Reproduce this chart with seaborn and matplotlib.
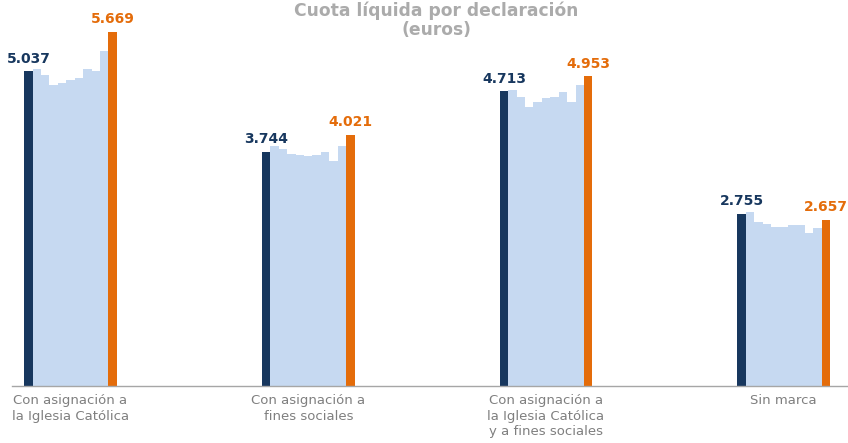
import matplotlib
matplotlib.use("Agg")
import matplotlib.pyplot as plt
import seaborn as sns
import pandas as pd

# --- Données ---
CATEGORIES = [
    "Con asignación a\nla Iglesia Católica",
    "Con asignación a\nfines sociales",
    "Con asignación a\nla Iglesia Católica\ny a fines sociales",
    "Sin marca",
]
YEARS = [str(y) for y in range(2007, 2018)]

iglesia   = [5037, 5073, 4973, 4823, 4855, 4898, 4935, 5073, 5037, 5357, 5669]
fines     = [3744, 3846, 3788, 3718, 3697, 3676, 3697, 3750, 3601, 3846, 4021]
ambos     = [4713, 4738, 4626, 4471, 4551, 4604, 4626, 4706, 4551, 4823, 4953]
sin_marca = [2755, 2790, 2620, 2588, 2545, 2545, 2582, 2582, 2454, 2524, 2657]

NAVY   = "#17375E"
LIGHT  = "#C6D9F1"
ORANGE = "#E46C0A"

rows = []
for cat, serie in zip(CATEGORIES, [iglesia, fines, ambos, sin_marca]):
    for year, v in zip(YEARS, serie):
        rows.append({"categoria": cat, "anio": year, "cuota": v})
df = pd.DataFrame(rows)

sns.set_style("white")
plt.rcParams["font.family"] = ["DejaVu Sans"]

fig = plt.figure(figsize=(8.48, 4.43), dpi=100)
ax = fig.add_axes([12 / 848, 57 / 443, 836 / 848, 375 / 443])

palette = [NAVY] + [LIGHT] * (len(YEARS) - 2) + [ORANGE]
sns.barplot(data=df, x="categoria", y="cuota", hue="anio", palette=palette,
            width=0.39, gap=0, saturation=1, legend=False, linewidth=0, ax=ax)

fmt = lambda v: f"{v:,.0f}".replace(",", ".")
series = [iglesia, fines, ambos, sin_marca]
ax.bar_label(ax.containers[0], labels=[fmt(s[0]) for s in series],
             padding=4, color=NAVY, fontsize=10, fontweight="bold")
ax.bar_label(ax.containers[-1], labels=[fmt(s[-1]) for s in series],
             padding=4, color=ORANGE, fontsize=10, fontweight="bold")

ax.set_xlim(-0.246, 3.27)
ax.set_ylim(0, 6000)
ax.set_xlabel("")
ax.set_ylabel("")
ax.set_yticks([])
ax.tick_params(axis="x", length=0, pad=6)
for lbl in ax.get_xticklabels():
    lbl.set_fontsize(9.5)
    lbl.set_color("#7f7f7f")
    lbl.set_linespacing(1.25)

for side in ["top", "left", "right"]:
    ax.spines[side].set_visible(False)
ax.spines["bottom"].set_color("#a6a6a6")
ax.spines["bottom"].set_linewidth(1)

fig.text(436 / 848, 1 - 1 / 443, "Cuota líquida por declaración\n(euros)",
         ha="center", va="top", fontsize=12.3, fontweight="bold", color="#ababab",
         linespacing=1.1)

fig.savefig("out.png", dpi=100)
